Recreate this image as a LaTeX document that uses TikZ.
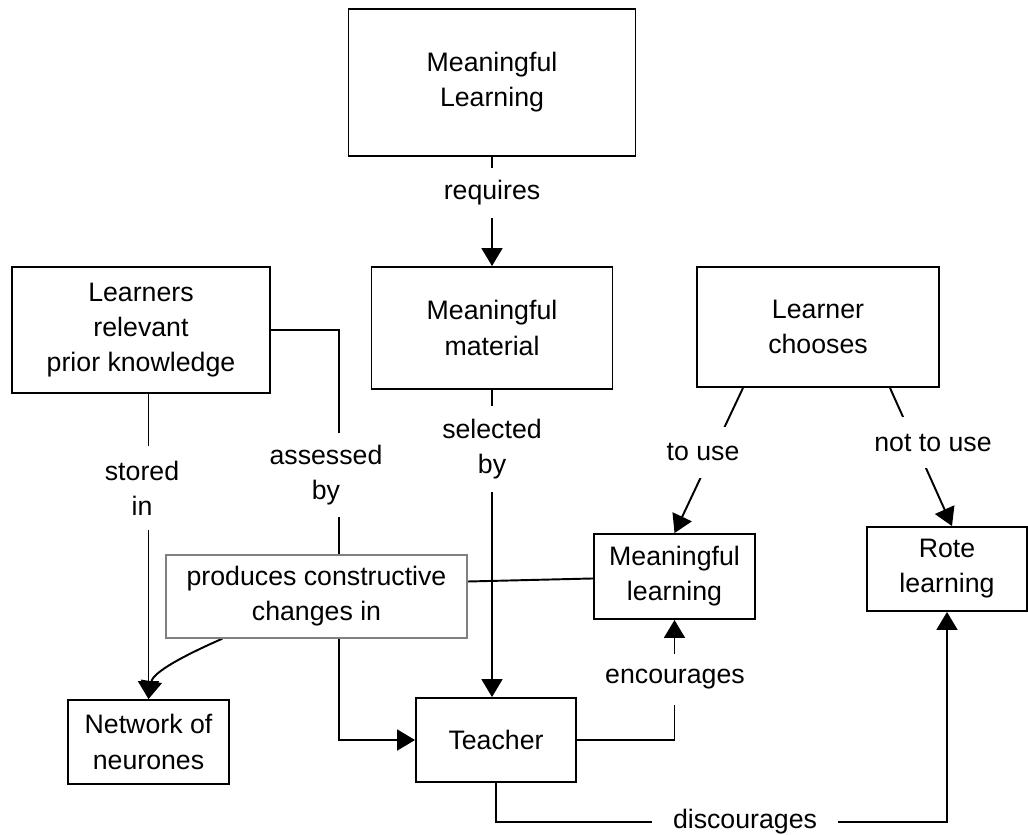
\documentclass[tikz,border=0pt]{standalone}
\usepackage{fontspec}
\setmainfont{Liberation Sans}
\usetikzlibrary{calc, arrows.meta, backgrounds}

\begin{document}
\begin{tikzpicture}[
  x = 0.02cm, y = -0.02cm, line width = 1.1pt,
  font = \fontsize{15.2}{20}\selectfont,
  box/.style = {draw, fill = white, align = center, inner sep = 0pt},
  graybox/.style = {box, draw = gray, line width = 0.8pt},
  lbl/.style = {fill = white, inner sep = 0pt, align = center},
  arr/.style = {-{Triangle[length=0.36cm, width=0.42cm]}}
]
\useasboundingbox (0,0) rectangle (1028,835);

% concepts
\node[box, minimum width = 5.74cm, minimum height = 2.94cm] (ML) at (492,82.5) {Meaningful\\Learning};
\node[box, minimum width = 5.16cm, minimum height = 2.52cm] (LRPK) at (141,330) {Learners\\relevant\\prior knowledge};
\node[box, minimum width = 4.82cm, minimum height = 2.44cm] (MM) at (492,328) {Meaningful\\material};
\node[box, minimum width = 4.84cm, minimum height = 2.4cm] (LC) at (818,327) {Learner\\chooses};
\node[box, minimum width = 3.22cm, minimum height = 1.7cm] (MLg) at (674.5,576.5) {Meaningful\\learning};
\node[box, minimum width = 3.2cm, minimum height = 1.68cm] (Rote) at (947,569) {Rote\\learning};
\node[box, minimum width = 3.22cm, minimum height = 1.68cm] (Net) at (148.5,742) {Network of\\neurones};
\node[box, minimum width = 3.2cm, minimum height = 1.68cm] (Tch) at (496,740) {Teacher};
\node[graybox, minimum width = 6.02cm, minimum height = 1.66cm] (PCC) at (316.5,596.5) {produces constructive\\changes in};

% linking words
\node[lbl, minimum height = 1cm] (req) at (492,193) {requires};
\node[lbl, minimum height = 1.68cm] (st) at (142,488) {stored\\in};
\node[lbl, minimum height = 1.68cm] (as) at (326,475) {assessed\\by};
\node[lbl, minimum height = 1.72cm] (sel) at (492,449) {selected\\by};
\node[lbl, minimum height = 1.02cm] (tu) at (703,452) {to use};
\node[lbl, minimum height = 1.02cm] (ntu) at (933,442.5) {not to use};
\node[lbl, minimum height = 1.02cm] (enc) at (675,679.5) {encourages};
\node[lbl, minimum width = 3.68cm] (dc) at (745,822) {discourages};

\coordinate (ab) at (339,600);

% connectors
\begin{scope}[on background layer, every path/.append style = {line width = 1.1pt}]
  \draw[arr] (ML) -- (MM);
  \draw[arr] (LRPK.south -| Net) -- (Net);
  \draw[arr] (LRPK) -| (ab) |- (Tch);
  \draw[arr] (MM) -- (MM |- Tch.north);
  \draw[arr] ($(LC.south)+(-75,0)$) -- (MLg.north);
  \draw[arr] ($(LC.south)+(72,0)$) -- ($(Rote.north)+(5,0)$);
  \draw[arr] (Tch) -| (MLg);
  \draw[arr] (Tch) |- (dc) -| (Rote);
  \draw (MLg) -- ($(PCC.east)+(0,-15)$);
  \draw[arr] ($(PCC.south west)+(57,0)$) .. controls (185,655) and (153,672) .. (Net.north);
\end{scope}

\end{tikzpicture}
\end{document}
